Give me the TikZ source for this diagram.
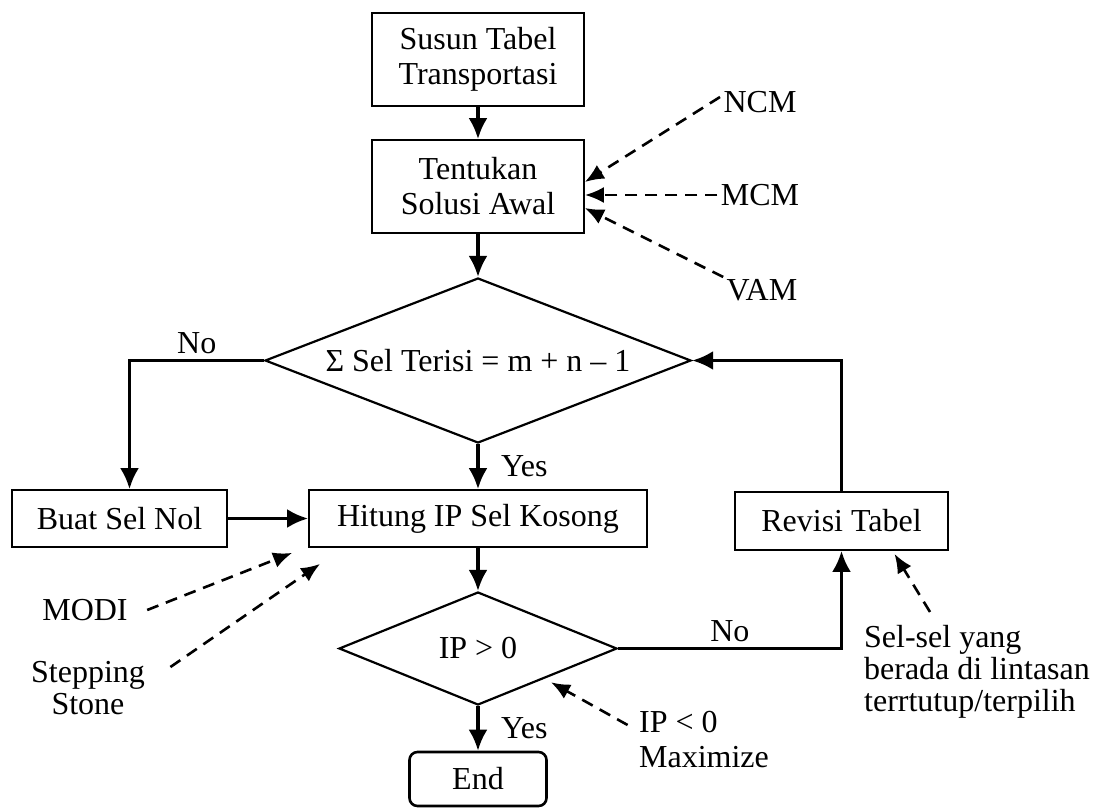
\documentclass[tikz,border=0pt]{standalone}
\usepackage{fontspec}
\setmainfont{Liberation Serif}
\usetikzlibrary{shapes.geometric,arrows.meta}

\begin{document}
\begin{tikzpicture}[x=1pt, y=-1pt,
        font=\fontsize{32}{35}\selectfont,
        kotak/.style={draw, line width=1.8pt, inner sep=0pt},
        putusan/.style={draw, diamond, aspect=2.5, line width=2.2pt, inner sep=0pt},
        panah/.style={-{Latex[length=21pt,width=19pt]}, line width=3.4pt},
        putus/.style={-{Latex[length=19pt,width=16pt]}, line width=2.6pt, dash pattern=on 12pt off 8pt}]
        \useasboundingbox (0,0) rectangle (1101,807);

        % Kotak dan keputusan
        \node[kotak, minimum width=212pt, minimum height=93pt, align=center] (susun) at (478,59.5) {Susun Tabel\\Transportasi};
        \node[kotak, minimum width=212pt, minimum height=93pt, align=center] (awal) at (478,186.5) {Tentukan\\Solusi Awal};
        \node[putusan, minimum width=426pt, minimum height=165pt] (cek) at (478,360.5) {Σ Sel Terisi = m + n – 1};
        \node[kotak, minimum width=215pt, minimum height=57pt] (nol) at (119.5,518.5) {Buat Sel Nol};
        \node[kotak, minimum width=338pt, minimum height=57pt] (hitung) at (478,518.5) {Hitung IP Sel Kosong};
        \node[kotak, minimum width=213pt, minimum height=58pt] (revisi) at (841.5,521) {Revisi Tabel};
        \node[putusan, minimum width=278pt, minimum height=113pt] (ip) at (478,648.5) {IP > 0};
        \node[kotak, rounded corners=8pt, line width=2.6pt, minimum width=137pt, minimum height=54pt] (selesai) at (478,779) {End};

        % Alur
        \draw[panah] (susun) -- (awal);
        \draw[panah] (awal) -- (cek);
        \draw[panah] (cek) -- node[right=18pt] {Yes} (hitung);
        \draw[panah] (cek.west) -| node[pos=0.25, above=2pt] {No} ([xshift=10pt]nol.north);
        \draw[panah] (nol) -- (hitung);
        \draw[panah] (hitung) -- (ip);
        \draw[panah] (ip.east) -| node[pos=0.25, above=2pt] {No} (revisi.south);
        \draw[panah] (revisi.north) |- (cek.east);
        \draw[panah] (ip) -- node[right=18pt] {Yes} (selesai);

        % Metode solusi awal
        \node (ncm) at (760,102) {NCM};
        \node (mcm) at (760,195) {MCM};
        \node (vam) at (762,290) {VAM};
        \draw[putus] ([yshift=5pt]ncm.west) -- ([yshift=4.5pt]awal.east);
        \draw[putus] (mcm.west) -- ([yshift=-8.5pt]awal.east);
        \draw[putus] ([yshift=13pt]vam.west) -- ([yshift=-21.5pt]awal.east);

        % Metode hitung IP
        \node (modi) at (85,610) {MODI};
        \node[align=center, font=\fontsize{32}{32}\selectfont] (stepping) at (88,688) {Stepping\\Stone};
        \draw[putus] ([xshift=16pt]modi.east) -- ([shift={(-16pt,-5pt)}]hitung.south west);
        \draw[putus] ([shift={(22pt,21pt)}]stepping.east) -- ([shift={(12pt,-16pt)}]hitung.south west);

        % Catatan
        \node[align=left] (maks) at (704,740) {IP < 0\\Maximize};
        \draw[putus] ([shift={(-8pt,15pt)}]maks.west) -- ([shift={(3pt,-5pt)}]ip.south east);
        \node[align=left, font=\fontsize{32}{32}\selectfont] (lintasan) at (977,672) {Sel-sel yang\\berada di lintasan\\terrtutup/terpilih};
        \draw[putus] ([shift={(-47pt,10pt)}]lintasan.north) -- ([shift={(53pt,-3pt)}]revisi.south);
\end{tikzpicture}
\end{document}
